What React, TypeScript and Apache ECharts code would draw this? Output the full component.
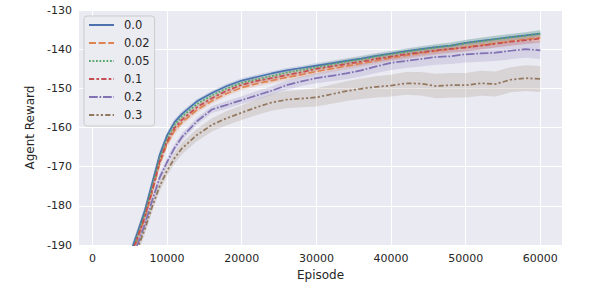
import React, { useEffect, useRef } from 'react';
import * as echarts from 'echarts';

const episodes = [
  1000, 2000, 3000, 4000, 5000, 6000, 7000, 8000, 9000, 10000, 11000, 12000,
  14000, 16000, 18000, 20000, 22000, 24000, 26000, 28000, 30000, 32000, 34000, 36000,
  38000, 40000, 42000, 44000, 46000, 48000, 50000, 52000, 54000, 56000, 58000, 60000,
];

const seriesNames = ['0.0', '0.02', '0.05', '0.1', '0.2', '0.3'];

const r00 = [
  -228, -218, -207.5, -199.5, -192.5, -187.0, -181.3, -174.2, -167.0, -162.0, -158.6, -156.5,
  -153.3, -151.2, -149.4, -148.0, -147.1, -146.2, -145.4, -144.8, -144.2, -143.6, -143.0, -142.4,
  -141.7, -141.1, -140.5, -140.0, -139.5, -139.1, -138.4, -137.9, -137.4, -136.9, -136.5, -136.0,
];
const r02 = [
  -230.5, -220.5, -210, -201.5, -194.0, -188.6, -183.3, -176.5, -169.3, -164.1, -160.8, -158.7,
  -155.5, -153.2, -151.3, -149.8, -148.8, -148.0, -147.2, -146.5, -145.7, -145.0, -144.3, -143.6,
  -142.9, -142.2, -141.6, -141.0, -140.5, -140.0, -139.5, -139.0, -138.5, -138.0, -137.5, -137.1,
];
const r05 = [
  -229, -219, -208.5, -200.3, -193.2, -187.7, -182.0, -175.0, -167.8, -162.7, -159.3, -157.2,
  -154.0, -151.8, -150.0, -148.6, -147.7, -146.9, -146.0, -145.3, -144.6, -143.9, -143.2, -142.6,
  -141.9, -141.3, -140.7, -140.1, -139.6, -139.1, -138.5, -138.0, -137.5, -137.0, -136.6, -136.0,
];
const r10 = [
  -230, -220, -209.5, -201, -193.6, -188.2, -182.8, -176.0, -168.7, -163.5, -160.1, -158.0,
  -154.8, -152.5, -150.6, -149.1, -148.1, -147.4, -146.6, -145.9, -145.0, -144.4, -143.8, -143.2,
  -142.5, -141.9, -141.3, -140.8, -140.3, -139.9, -139.6, -139.1, -138.6, -138.1, -137.7, -137.3,
];
const r20 = [
  -232, -222, -211.5, -203, -195.2, -190.0, -184.8, -178.6, -172.8, -168.8, -165.2, -162.4,
  -158.4, -155.4, -154.2, -153.0, -151.8, -150.6, -149.2, -148.2, -147.4, -146.8, -146.2, -145.4,
  -144.4, -143.5, -143.0, -142.5, -142.0, -141.8, -141.3, -141.1, -140.9, -140.4, -140.0, -140.3,
];
const r30 = [
  -233, -223, -212.5, -204, -196.0, -191.0, -186.0, -180.2, -175.0, -171.0, -167.8, -165.3,
  -161.9, -159.3, -157.6, -156.2, -154.8, -153.6, -152.9, -152.6, -152.3, -151.5, -150.7, -150.1,
  -149.6, -149.3, -148.7, -148.8, -149.4, -149.2, -149.2, -148.7, -148.9, -147.8, -147.4, -147.6,
];

// half-widths of the confidence bands
const ci00 = [
  1.5, 1.5, 1.5, 1.4, 1.3, 1.2, 1.2, 1.1, 1.0, 0.9, 0.8, 0.7,
  0.6, 0.6, 0.6, 0.6, 0.6, 0.6, 0.6, 0.6, 0.65, 0.65, 0.7, 0.7,
  0.7, 0.7, 0.7, 0.75, 0.75, 0.75, 0.8, 0.8, 0.8, 0.8, 0.85, 0.85,
];
const ci02 = [
  1.6, 1.6, 1.6, 1.5, 1.4, 1.3, 1.3, 1.2, 1.1, 1.0, 0.9, 0.8,
  0.7, 0.7, 0.7, 0.7, 0.75, 0.75, 0.8, 0.8, 0.8, 0.85, 0.85, 0.9,
  0.9, 0.9, 0.95, 0.95, 1.0, 1.0, 1.0, 1.05, 1.05, 1.1, 1.1, 1.1,
];
const ci05 = [
  1.5, 1.5, 1.5, 1.4, 1.3, 1.2, 1.2, 1.1, 1.0, 0.9, 0.8, 0.75,
  0.65, 0.65, 0.65, 0.65, 0.65, 0.7, 0.7, 0.7, 0.7, 0.75, 0.75, 0.75,
  0.8, 0.8, 0.8, 0.8, 0.85, 0.85, 0.85, 0.9, 0.9, 0.9, 0.9, 0.9,
];
const ci10 = [
  1.6, 1.6, 1.6, 1.5, 1.4, 1.3, 1.3, 1.2, 1.1, 1.0, 0.9, 0.8,
  0.7, 0.7, 0.7, 0.7, 0.7, 0.75, 0.75, 0.8, 0.8, 0.8, 0.85, 0.85,
  0.85, 0.9, 0.9, 0.9, 0.95, 0.95, 1.0, 1.0, 1.0, 1.0, 1.05, 1.05,
];
const ci20 = [
  1.6, 1.6, 1.6, 1.5, 1.4, 1.3, 1.2, 1.2, 1.1, 1.0, 1.0, 1.0,
  0.9, 0.9, 1.0, 1.0, 1.1, 1.1, 1.2, 1.2, 1.3, 1.4, 1.5, 1.6,
  1.7, 1.8, 1.8, 1.9, 2.0, 2.0, 2.1, 2.1, 2.1, 2.2, 2.2, 2.2,
];
const ci30 = [
  1.8, 1.8, 1.7, 1.6, 1.5, 1.4, 1.3, 1.3, 1.3, 1.3, 1.4, 1.5,
  1.6, 1.7, 1.8, 1.9, 2.0, 2.1, 2.2, 2.2, 2.3, 2.4, 2.5, 2.6,
  2.7, 2.8, 2.9, 3.0, 3.1, 3.1, 3.1, 3.2, 3.2, 3.2, 3.3, 3.3,
];

const xTicks = [0, 10000, 20000, 30000, 40000, 50000, 60000];

const colors = ['#4C72B0', '#DD8452', '#55A868', '#C44E52', '#8172B3', '#937860'];
const bandFills = [
  'rgba(76,114,176,0.2)',
  'rgba(221,132,82,0.2)',
  'rgba(85,168,104,0.2)',
  'rgba(196,78,82,0.2)',
  'rgba(129,114,179,0.2)',
  'rgba(147,120,96,0.2)',
];
const LW = 1.75;
const dashes: any[] = [
  'solid',
  [4 * LW, 1.5 * LW],
  [1 * LW, 1 * LW],
  [3 * LW, 1.25 * LW, 1.5 * LW, 1.25 * LW],
  [5 * LW, 1 * LW, 1 * LW, 1 * LW],
  [3 * LW, 1.25 * LW, 1.25 * LW, 1.25 * LW, 1.25 * LW, 1.25 * LW],
];

const FONT = 'DejaVu Sans';
const TEXT = '#262626';

export default function App() {
  const ref = useRef<HTMLDivElement>(null);

  useEffect(() => {
    if (!ref.current) return;
    const chart = echarts.init(ref.current, null, { renderer: 'svg' });
    const values = [r00, r02, r05, r10, r20, r30];
    const cis = [ci00, ci02, ci05, ci10, ci20, ci30];

    const bandSeries = values.map((vals, i) => ({
      type: 'custom',
      name: 'band-' + seriesNames[i],
      silent: true,
      clip: true,
      z: 1,
      encode: { x: 0, y: [1, 2] },
      data: episodes.map((e, j) => [e, vals[j] - cis[i][j], vals[j] + cis[i][j]]),
      renderItem: (params: any, api: any) => {
        if (params.dataIndex !== 0) return null;
        const upper = episodes.map((e, j) => api.coord([e, vals[j] + cis[i][j]]));
        const lower = episodes.map((e, j) => api.coord([e, vals[j] - cis[i][j]])).reverse();
        const cs = params.coordSys;
        return {
          type: 'polygon',
          shape: { points: upper.concat(lower) },
          style: { fill: bandFills[i], stroke: 'none' },
          clipPath: {
            type: 'rect',
            shape: { x: cs.x, y: cs.y, width: cs.width, height: cs.height },
          },
        };
      },
    }));

    const lineSeries = values.map((vals, i) => ({
      type: 'line',
      name: seriesNames[i],
      data: episodes.map((e, j) => [e, vals[j]]),
      symbol: 'none',
      color: colors[i],
      itemStyle: { color: colors[i] },
      lineStyle: { color: colors[i], width: LW, type: dashes[i] },
      z: 2,
    }));

    chart.setOption({
      animation: false,
      textStyle: { fontFamily: FONT },
      grid: {
        left: 79,
        top: 10,
        width: 483,
        height: 237,
        show: true,
        backgroundColor: '#EAEAF2',
        borderWidth: 0,
      },
      legend: {
        data: seriesNames,
        orient: 'vertical',
        left: 84,
        top: 16,
        padding: [3, 5, 5, 4],
        itemWidth: 25,
        itemHeight: 11,
        itemGap: 6,
        backgroundColor: '#EBEBF2',
        borderColor: '#CCCCCC',
        borderWidth: 1,
        borderRadius: 3,
        itemStyle: { opacity: 0 },
        textStyle: {
          fontFamily: FONT,
          fontSize: 11.5,
          color: TEXT,
          padding: [0, 0, 0, 5],
          lineHeight: 11,
        },
      },
      xAxis: {
        type: 'value',
        min: -1800,
        max: 62900,
        name: 'Episode',
        nameLocation: 'middle',
        nameGap: 20,
        nameTextStyle: { fontFamily: FONT, fontSize: 12, color: TEXT },
        axisLine: { show: false },
        axisTick: { show: false, customValues: xTicks },
        axisLabel: {
          customValues: xTicks,
          formatter: (v: number) => String(v),
          fontFamily: FONT,
          fontSize: 11,
          color: TEXT,
          margin: 8,
        },
        splitLine: { show: true, lineStyle: { color: '#FFFFFF', width: 1 } },
      },
      yAxis: {
        type: 'value',
        min: -190,
        max: -130,
        interval: 10,
        name: 'Agent Reward',
        nameLocation: 'middle',
        nameGap: 41,
        nameTextStyle: { fontFamily: FONT, fontSize: 12, color: TEXT },
        axisLine: { show: false },
        axisTick: { show: false },
        axisLabel: { fontFamily: FONT, fontSize: 11, color: TEXT, margin: 7 },
        splitLine: { show: true, lineStyle: { color: '#FFFFFF', width: 1 } },
      },
      series: [...bandSeries, ...lineSeries],
    });

    return () => {
      chart.dispose();
    };
  }, []);

  return (
    <div
      ref={ref}
      style={{ position: 'fixed', left: 0, top: 0, width: 598, height: 286, background: '#FFFFFF' }}
    />
  );
}
